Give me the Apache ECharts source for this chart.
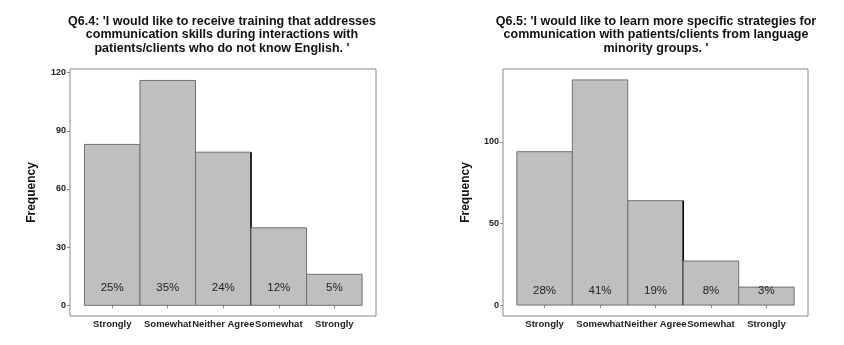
<!DOCTYPE html>
<html><head><meta charset="utf-8">
<script src="https://cdn.jsdelivr.net/npm/echarts@6/dist/echarts.min.js"></script>
<style>html,body{margin:0;padding:0;background:#fff}#c{width:844px;height:345px}</style>
</head><body><div id="c"></div>
<script>
const categories = ['Strongly', 'Somewhat', 'Neither Agree', 'Somewhat', 'Strongly'];
const positions = [1, 2, 3, 4, 5];
const values1 = [83, 116, 79, 40, 16];
const values2 = [94, 138, 64, 27, 11];
const pct1 = ['25%', '35%', '24%', '12%', '5%'];
const pct2 = ['28%', '41%', '19%', '8%', '3%'];
const yTicks1 = [0, 30, 60, 90, 120];
const yTicks2 = [0, 50, 100];
const labelY = 9;
const title1 = "Q6.4: 'I would like to receive training that addresses\ncommunication skills during interactions with\npatients/clients who do not know English. '";
const title2 = "Q6.5: 'I would like to learn more specific strategies for\ncommunication with patients/clients from language\nminority groups. '";

const FONT = '"Liberation Sans", Arial, sans-serif';
const chart = echarts.init(document.getElementById('c'), null, {renderer: 'canvas'});

function makeRender(pcts) {
  return function (params, api) {
    const x = api.value(0), v = api.value(1);
    const p0 = api.coord([x - 0.5, 0]);
    const p1 = api.coord([x + 0.5, v]);
    const lp = api.coord([x, labelY]);
    const children = [{
      type: 'rect',
      shape: {x: p0[0], y: p1[1], width: p1[0] - p0[0], height: p0[1] - p1[1]},
      style: {fill: '#bfbfbf', stroke: '#707070', lineWidth: 1}
    }, {
      type: 'text',
      style: {text: pcts[params.dataIndex], x: lp[0], y: lp[1], align: 'center', verticalAlign: 'middle',
        font: '11.5px ' + FONT, fill: '#222'}
    }];
    if (params.dataIndex === 2) {
      children.push({type: 'line', shape: {x1: p1[0], y1: p1[1], x2: p1[0], y2: p0[1]},
        style: {stroke: '#000', lineWidth: 1.5}});
    }
    return {type: 'group', children: children};
  };
}

function xAxis(idx, min, max) {
  return {
    type: 'value', gridIndex: idx, min: min, max: max,
    splitLine: {show: false}, axisLine: {show: false},
    axisTick: {show: true, length: 3, lineStyle: {color: '#888'}, customValues: positions},
    axisLabel: {customValues: positions, formatter: v => categories[Math.round(v) - 1] || '',
      fontFamily: FONT, fontWeight: 'bold', fontSize: 9.5, color: '#222', margin: 3}
  };
}
function yAxis(idx, min, max, ticks, gap) {
  return {
    type: 'value', gridIndex: idx, min: min, max: max,
    name: 'Frequency', nameLocation: 'middle', nameRotate: 90, nameGap: gap,
    nameTextStyle: {fontFamily: FONT, fontWeight: 'bold', fontSize: 12, color: '#111'},
    splitLine: {show: false}, axisLine: {show: false},
    axisTick: {show: true, length: 3, lineStyle: {color: '#888'}, customValues: ticks},
    axisLabel: {customValues: ticks, fontFamily: FONT, fontWeight: 'bold', fontSize: 9, color: '#222', margin: 4}
  };
}

chart.setOption({
  animation: false,
  backgroundColor: '#fff',
  title: [
    {text: title1, left: 217, top: 10, textAlign: 'center',
      textStyle: {fontFamily: FONT, fontWeight: 'bold', fontSize: 12.5, lineHeight: 13.3, color: '#111'}},
    {text: title2, left: 651, top: 10, textAlign: 'center',
      textStyle: {fontFamily: FONT, fontWeight: 'bold', fontSize: 12.5, lineHeight: 13.3, color: '#111'}}
  ],
  grid: [
    {left: 70, right: 468, top: 69, bottom: 29, show: true, borderColor: '#8a8a8a', borderWidth: 1, backgroundColor: '#fff'},
    {left: 503, right: 36, top: 69, bottom: 29, show: true, borderColor: '#8a8a8a', borderWidth: 1, backgroundColor: '#fff'}
  ],
  xAxis: [xAxis(0, 0.24, 5.75), xAxis(1, 0.25, 5.75)],
  yAxis: [yAxis(0, -5.5, 121.9, yTicks1, 32), yAxis(1, -6.7, 144.7, yTicks2, 31)],
  series: [
    {type: 'custom', xAxisIndex: 0, yAxisIndex: 0, renderItem: makeRender(pct1),
      data: positions.map((p, i) => [p, values1[i]])},
    {type: 'custom', xAxisIndex: 1, yAxisIndex: 1, renderItem: makeRender(pct2),
      data: positions.map((p, i) => [p, values2[i]])}
  ]
});
</script></body></html>
